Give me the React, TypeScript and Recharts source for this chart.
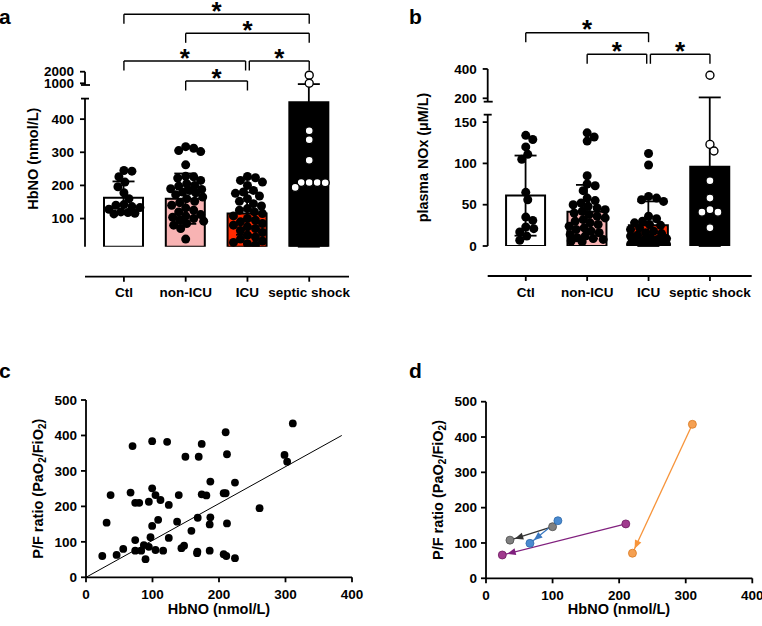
import React from 'react';
import {
  ComposedChart, Bar, Cell, ErrorBar, Scatter, Line, XAxis, YAxis, ReferenceLine, ReferenceDot,
} from 'recharts';

const FONT = '"Liberation Sans", Arial, Helvetica, sans-serif';
const AX = 1.8;

const groups = ['Ctl', 'non-ICU', 'ICU', 'septic shock'];
const barFills = ['#ffffff', '#f8b3b3', '#ff2a00', '#000000'];

// a: HbNO (nmol/L) per subject
const hbnoCtl = [245, 243, 226, 210, 196, 178, 160, 142, 140, 136, 133, 128, 120, 118, 116, 114];
const hbnoNonIcu = [317, 312, 305, 302, 262, 228, 226, 222, 215, 205, 200, 198, 190, 188, 185, 180, 178, 172,
  165, 160, 152, 148, 140, 132, 125, 120, 112, 108, 104, 100, 96, 92, 85, 80, 70, 38];
const hbnoIcu = [227, 223, 215, 210, 200, 185, 180, 176, 168, 160, 152, 145, 138, 130, 125, 120, 115, 108,
  100, 95, 90, 85, 80, 75, 70, 64, 58, 50, 44, 38, 32, 28, 24, 20];
const hbnoSeptic = [1700, 1000, 365, 338, 276, 209, 209, 209, 208, 194];
const hbnoMean = [163, 160, 115, 451];
const hbnoSd = [49, 76, 64, 480];
const hbnoTicks = [100, 200, 300, 400, 1000, 2000];
const hbnoPairs: [number, number][] = [[0, 3], [1, 3], [0, 2], [2, 3], [1, 2]];

// b: plasma NOx (uM/L) per subject
const noxCtl = [134, 129, 120, 111, 105, 65, 56, 35, 31, 23, 21, 17, 12, 7];
const noxNonIcu = [137, 132, 127, 85, 75, 73, 67, 58, 55, 52, 50, 48, 46, 44, 42, 40, 38, 36, 34, 32, 30, 28,
  26, 24, 22, 20, 18, 16, 14, 12, 10, 9, 8, 6, 5];
const noxIcu = [112, 98, 60, 58, 56, 54, 36, 33, 30, 28, 26, 25, 22, 20, 18, 16, 15, 13, 12, 10, 9, 8, 7, 6,
  5, 4, 3, 3, 2, 2, 1, 1];
const noxSeptic = [357, 123, 115, 79, 58, 44, 41, 41, 22];
const noxMean = [61, 41.5, 25, 96];
const noxSd = [48.5, 32.5, 29, 110];
const noxTicks = [0, 50, 100, 150, 200, 400];
const noxPairs: [number, number][] = [[0, 2], [1, 2], [2, 3]];

// c: HbNO vs P/F ratio
const pfHbno = [24.5, 31, 37, 46, 56, 67, 70, 74, 74, 74, 80, 83, 87, 89.5, 94.5, 94.5, 97, 99.5, 99.5, 99.5,
  104.5, 104.5, 108.5, 112, 116, 122, 124.5, 124.5, 137, 139.5, 143.5, 147.5, 149.5, 158.5, 167.5, 168, 169.5,
  167, 174, 174, 181, 186, 186, 187, 187, 207, 207, 210, 211, 212, 212, 224, 224, 261, 298.5, 302.5, 311, 210];
const pfRatio = [60, 154, 232, 63, 80, 239, 370, 105, 75, 210, 210, 75, 91, 51, 86, 213, 113, 251, 384, 145,
  232, 77, 162, 218, 75, 382, 204, 111, 157, 232, 82, 89, 340, 131, 72, 168, 340, 68, 376, 234, 231, 149, 75,
  169, 270, 237, 65, 409, 60, 152, 347, 267, 54, 195, 345, 326, 434, 237];
const fitSlope = 1.04;
const fitTopY = 400;

// d: paired samples, first -> second
const pairHbnoFrom = [100, 108, 210, 310];
const pairPfFrom = [146, 163, 154, 436];
const pairHbnoTo = [36, 66, 24.5, 220];
const pairPfTo = [108, 99, 66, 71];
const pairLine = ['#333333', '#3a78c0', '#80207e', '#f7943a'];
const pairDot = ['#808080', '#4a8ad0', '#a03a8e', '#f5a052'];
const pairEdge = ['#4d4d4d', '#2f6aa8', '#6e1c62', '#d97a22'];

type Broken = { low: [number, number]; lowK: number; high: [number, number]; highRef: [number, number]; highK: number };

const makeT = (b: Broken) => (v: number) => {
  const hi = (x: number) => b.highRef[1] + (x - b.highRef[0]) * b.highK;
  const lowTop = (b.low[1] - b.low[0]) * b.lowK;
  if (v <= b.low[1]) return (v - b.low[0]) * b.lowK;
  if (v >= b.high[0]) return hi(v);
  const f = (v - b.low[1]) / (b.high[0] - b.low[1]);
  return lowTop + f * (hi(b.high[0]) - lowTop);
};

// simple greedy swarm, offsets in pixels then converted to category units
function swarm(values: number[], T: (v: number) => number, r: number, pxPerUnit: number, maxPx: number) {
  const order = values.map((_, i) => i).sort((i, j) => values[j] - values[i]);
  const placed: { x: number; t: number }[] = [];
  const out: { dx: number; t: number }[] = new Array(values.length);
  const minD = 2 * r * 0.85;
  for (const i of order) {
    const t = T(values[i]);
    let best = 0;
    let bestD = -1;
    let done = false;
    for (let s = 0; s <= maxPx && !done; s += 1) {
      for (const dx of s === 0 ? [0] : [s, -s]) {
        let dmin = Infinity;
        for (const p of placed) dmin = Math.min(dmin, Math.hypot(p.x - dx, p.t - t));
        if (dmin >= minD) { best = dx; done = true; break; }
        if (dmin > bestD) { bestD = dmin; best = dx; }
      }
    }
    placed.push({ x: best, t });
    out[i] = { dx: best / pxPerUnit, t };
  }
  return out;
}

const tickStyle = { fontSize: 13.5, fontWeight: 700, fill: '#000', fontFamily: FONT };
const lineStyle = { stroke: '#000', strokeWidth: AX };

type BarCfg = {
  left: number; top: number; width: number; height: number; yAxisW: number; mr: number; plotH: number;
  xDomain: [number, number]; axis: Broken; values: number[][]; mean: number[]; sd: number[];
  ticks: number[]; pairs: [number, number][]; levels: number[]; pairLevels: number[];
};

const R = 4.5;
const STAR = 26;

function BarPanel({ cfg }: { cfg: BarCfg }) {
  const T = makeT(cfg.axis);
  const plotW = cfg.width - cfg.yAxisW - cfg.mr;
  const pxPerUnit = plotW / (cfg.xDomain[1] - cfg.xDomain[0]);
  // category band padding so bar centres sit on the numeric positions 0..3
  const padL = (-cfg.xDomain[0] - 0.5) * pxPerUnit;
  const padR = (cfg.xDomain[1] - 3.5) * pxPerUnit;
  const bars = groups.map((name, i) => {
    const m = cfg.mean[i];
    const sd = cfg.sd[i];
    const tm = T(m);
    return { name, y: tm, err: [tm - T(Math.max(m - sd, cfg.axis.low[0])), T(m + sd) - tm] };
  });
  const dots = cfg.values.map((vals, g) =>
    swarm(vals, T, R, pxPerUnit, 18).map((p) => ({ x: g + p.dx, y: p.t })));
  const tTicks = cfg.ticks.map(T);
  const tickLabel = (t: number) => {
    const i = tTicks.findIndex((v) => Math.abs(v - t) < 0.01);
    return i >= 0 ? String(cfg.ticks[i]) : '';
  };
  const x0 = cfg.xDomain[0];
  const capU = 4 / pxPerUnit;
  const ax = cfg.axis;
  const axisSegs = [
    [[x0, T(ax.low[0])], [x0, T(ax.low[1])]],
    [[x0 - capU, T(ax.low[1])], [x0 + capU, T(ax.low[1])]],
    [[x0, T(ax.high[0])], [x0, T(ax.high[1])]],
    [[x0 - capU, T(ax.high[0])], [x0 + capU + 1 / pxPerUnit, T(ax.high[0])]],
  ];
  const TRIM = 0.03;
  const DROP = 9.5;
  const brackets = cfg.pairs.flatMap(([a, b], k) => {
    const lv = cfg.pairLevels[k];
    const L = cfg.levels[lv];
    const same = cfg.pairs.filter((_, j) => j !== k && cfg.pairLevels[j] === lv);
    const x1 = a + (same.some((p) => p[1] === a) ? TRIM : 0);
    const x2 = b - (same.some((p) => p[0] === b) ? TRIM : 0);
    const segs = [
      [[x1, L - DROP], [x1, L]],
      [[x1, L], [x2, L]],
      [[x2, L], [x2, L - DROP]],
    ];
    return [
      ...segs.map((s, n) => (
        <ReferenceLine key={`br${k}-${n}`} xAxisId="num" ifOverflow="visible" stroke="#000" strokeWidth={1.4}
          segment={[{ x: s[0][0], y: s[0][1] }, { x: s[1][0], y: s[1][1] }]} />
      )),
      <ReferenceDot key={`st${k}`} xAxisId="num" x={(x1 + x2) / 2} y={L} r={0} ifOverflow="visible"
        shape={(p: any) => (
          <text x={p.cx} y={p.cy - 7 + 0.49 * STAR} textAnchor="middle" fontSize={STAR} fontWeight={700}
            fontFamily={FONT} fill="#000">*</text>
        )} />,
    ];
  });

  return (
    <div style={{ position: 'absolute', left: cfg.left, top: cfg.top }}>
      <ComposedChart width={cfg.width} height={cfg.height} data={bars}
        margin={{ top: 0, right: cfg.mr, bottom: cfg.height - cfg.plotH - 30, left: 0 }}>
        <XAxis xAxisId="cat" type="category" dataKey="name" hide padding={{ left: padL, right: padR }} />
        <XAxis xAxisId="num" type="number" dataKey="x" domain={cfg.xDomain} allowDataOverflow ticks={[0, 1, 2, 3]}
          interval={0} tickFormatter={(i: number) => groups[i] ?? ''} height={30} tickSize={5} tickMargin={6}
          tick={tickStyle} axisLine={lineStyle} tickLine={lineStyle} />
        <YAxis type="number" domain={[0, cfg.plotH]} allowDataOverflow ticks={tTicks} interval={0}
          tickFormatter={tickLabel} width={cfg.yAxisW} tickSize={5} tickMargin={6}
          tick={tickStyle} axisLine={false} tickLine={lineStyle} />
        <Bar xAxisId="cat" dataKey="y" barSize={39} stroke="#000" strokeWidth={2} isAnimationActive={false}>
          {bars.map((_, i) => <Cell key={i} fill={barFills[i]} />)}
          <ErrorBar dataKey="err" direction="y" width={11} stroke="#000" strokeWidth={1.8} />
        </Bar>
        {dots.map((d, g) => (
          <Scatter key={`sw${g}`} xAxisId="num" data={d} dataKey="y" isAnimationActive={false}
            shape={(p: any) => (g === 3
              ? <circle cx={p.cx} cy={p.cy} r={R - 0.5} fill="#fff" stroke="#000" strokeWidth={1.4} />
              : <circle cx={p.cx} cy={p.cy} r={R} fill="#000" />)} />
        ))}
        {axisSegs.map((s, n) => (
          <ReferenceLine key={`ax${n}`} xAxisId="num" ifOverflow="visible" stroke="#000" strokeWidth={AX}
            segment={[{ x: s[0][0], y: s[0][1] }, { x: s[1][0], y: s[1][1] }]} />
        ))}
        {brackets}
      </ComposedChart>
    </div>
  );
}

const panelA: BarCfg = {
  left: 0, top: 0, width: 380, height: 300, yAxisW: 85, mr: 31, plotH: 246.7, xDomain: [-0.63, 3.644],
  axis: { low: [15, 462], lowK: 0.3313, high: [853, 2000], highRef: [1000, 163.4], highK: 0.0116 },
  values: [hbnoCtl, hbnoNonIcu, hbnoIcu, hbnoSeptic], mean: hbnoMean, sd: hbnoSd, ticks: hbnoTicks,
  pairs: hbnoPairs, levels: [232.4, 213.4, 185.7, 165.7], pairLevels: [0, 1, 2, 2, 3],
};

const panelB: BarCfg = {
  left: 400, top: 0, width: 362, height: 300, yAxisW: 87.7, mr: 10.3, plotH: 246, xDomain: [-0.62, 3.68],
  axis: { low: [0, 159], lowK: 0.826, high: [177, 400], highRef: [200, 147.7], highK: 0.1467 },
  values: [noxCtl, noxNonIcu, noxIcu, noxSeptic], mean: noxMean, sd: noxSd, ticks: noxTicks,
  pairs: noxPairs, levels: [213.3, 191.7], pairLevels: [0, 1, 1],
};

function ScatterPanel() {
  const pts = pfHbno.map((x, i) => ({ x, y: pfRatio[i] }));
  return (
    <div style={{ position: 'absolute', left: 0, top: 300 }}>
      <ComposedChart width={380} height={326} margin={{ top: 100, right: 28, bottom: 18.7, left: 0 }}>
        <XAxis type="number" dataKey="x" domain={[0, 400]} ticks={[0, 100, 200, 300, 400]} interval={0}
          height={30} tickSize={5} tickMargin={7} tick={tickStyle} axisLine={lineStyle} tickLine={lineStyle} />
        <YAxis type="number" domain={[0, 500]} ticks={[0, 100, 200, 300, 400, 500]} interval={0} width={86}
          tickSize={5} tickMargin={4} tick={tickStyle} axisLine={lineStyle} tickLine={lineStyle} />
        <ReferenceLine ifOverflow="visible" stroke="#000" strokeWidth={1}
          segment={[{ x: 0, y: 0 }, { x: fitTopY / fitSlope, y: fitTopY }]} />
        <Scatter data={pts} dataKey="y" isAnimationActive={false}
          shape={(p: any) => <circle cx={p.cx} cy={p.cy} r={3.9} fill="#000" />} />
      </ComposedChart>
    </div>
  );
}

function PairPanel() {
  return (
    <div style={{ position: 'absolute', left: 400, top: 300 }}>
      <ComposedChart width={362} height={326} margin={{ top: 101.7, right: 9.7, bottom: 17.7, left: 0 }}>
        <XAxis type="number" dataKey="x" domain={[0, 400]} ticks={[0, 100, 200, 300, 400]} interval={0}
          height={30} tickSize={5} tickMargin={7} tick={tickStyle} axisLine={lineStyle} tickLine={lineStyle} />
        <YAxis type="number" domain={[0, 500]} ticks={[0, 100, 200, 300, 400, 500]} interval={0} width={86}
          tickSize={5} tickMargin={4} tick={tickStyle} axisLine={lineStyle} tickLine={lineStyle} />
        {pairHbnoFrom.map((_, i) => (
          <Line key={i} type="linear" dataKey="y" isAnimationActive={false}
            data={[{ x: pairHbnoFrom[i], y: pairPfFrom[i] }, { x: pairHbnoTo[i], y: pairPfTo[i] }]}
            stroke={pairLine[i]} strokeWidth={1.3} markerEnd={`url(#arrow${i})`}
            dot={{ r: 4, fill: pairDot[i], stroke: pairEdge[i], strokeWidth: 0.8 }} activeDot={false} />
        ))}
      </ComposedChart>
    </div>
  );
}

function Overlay() {
  const title = { fontFamily: FONT, fontWeight: 700, fill: '#000' } as const;
  const sub = (s: string) => <tspan dy={4} fontSize={10}>{s}</tspan>;
  const up = (s: string) => <tspan dy={-4}>{s}</tspan>;
  const pfTitle = (x: number, y: number) => (
    <text transform={`translate(${x},${y}) rotate(-90)`} textAnchor="middle" dominantBaseline="central"
      fontSize={14.5} {...title}>
      P/F ratio (PaO{sub('2')}{up('/FiO')}{sub('2')}{up(')')}
    </text>
  );
  return (
    <svg width={762} height={626} style={{ position: 'absolute', left: 0, top: 0, pointerEvents: 'none' }}>
      <defs>
        {pairLine.map((c, i) => (
          <marker key={i} id={`arrow${i}`} markerUnits="userSpaceOnUse" markerWidth={16} markerHeight={10}
            refX={13.5} refY={3.5} orient="auto" overflow="visible">
            <path d="M0,0 L8.5,3.5 L0,7 z" fill={c} />
          </marker>
        ))}
      </defs>
      <text x={-1} y={24} fontSize={21} {...title}>a</text>
      <text x={409} y={24} fontSize={21} {...title}>b</text>
      <text x={-1} y={378} fontSize={21} {...title}>c</text>
      <text x={409} y={378} fontSize={21} {...title}>d</text>
      <text transform="translate(33,158.7) rotate(-90)" textAnchor="middle" dominantBaseline="central"
        fontSize={14.5} {...title}>HbNO (nmol/L)</text>
      <text transform="translate(423.3,157.5) rotate(-90)" textAnchor="middle" dominantBaseline="central"
        fontSize={14.3} {...title}>plasma NOx (μM/L)</text>
      {pfTitle(38, 488.7)}
      {pfTitle(438.3, 490)}
      <text x={219} y={614} textAnchor="middle" fontSize={14.5} {...title}>HbNO (nmol/L)</text>
      <text x={619} y={614} textAnchor="middle" fontSize={14.5} {...title}>HbNO (nmol/L)</text>
    </svg>
  );
}

export default function App() {
  return (
    <div style={{ position: 'absolute', left: 0, top: 0, width: 762, height: 626, background: '#fff' }}>
      <BarPanel cfg={panelA} />
      <BarPanel cfg={panelB} />
      <ScatterPanel />
      <PairPanel />
      <Overlay />
    </div>
  );
}
